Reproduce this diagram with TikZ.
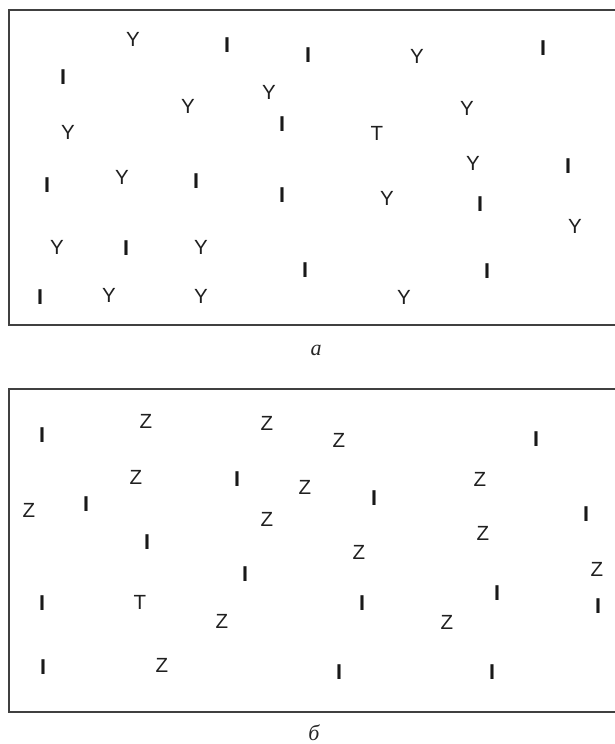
\documentclass[tikz,border=0pt]{standalone}
\usepackage{fontspec}
\setmainfont{Liberation Serif}
\newfontfamily\lettfont{Liberation Sans}
\begin{document}
\begin{tikzpicture}[x=1pt,y=-1pt,
  ch/.style={inner sep=0pt,font=\lettfont\fontsize{20.5}{20.5}\selectfont,text=black!88},
  bar/.style={inner sep=0pt,font=\lettfont\bfseries\fontsize{21.5}{21.5}\selectfont,text=black!90},
  captext/.style={inner sep=0pt,font=\itshape\fontsize{22}{22}\selectfont,text=black!85},
  frame/.style={draw=black!75,line width=1.3pt}]
\useasboundingbox (0,0) rectangle (614,744);
% frames
\coordinate (ta) at (616,10); \coordinate (tb) at (9,10);
\coordinate (tc) at (9,325); \coordinate (td) at (616,325);
\draw[frame] (ta) -- (tb) -- (tc) -- (td);
\coordinate (ba) at (616,389); \coordinate (bb) at (9,389);
\coordinate (bc) at (9,712); \coordinate (bd) at (616,712);
\draw[frame] (ba) -- (bb) -- (bc) -- (bd);
% panel a
\foreach \x/\y [count=\i] in {133/39,269/92,188/106,68/132,417/56,467/108,473/163,122/177,57/247,201/247,109/295,201/296,387/198,575/226,404/297}
  \node[ch] (ay\i) at (\x,\y) {Y};
\foreach \x/\y [count=\i] in {227/45,308/55,63/77,282/124,543/48,568/166,47/185,196/181,282/195,126/248,305/270,40/297,480/204,487/271}
  \node[bar] (ai\i) at (\x,\y) {I};
\node[ch] (at) at (377,133) {T};
\node[captext] (la) at (316,350) {a};
% panel b
\foreach \x/\y [count=\i] in {146/421,267/423,339/440,136/477,305/487,480/479,29/510,267/519,483/533,359/552,597/569,222/621,447/622,162/665}
  \node[ch] (bz\i) at (\x,\y) {Z};
\foreach \x/\y [count=\i] in {42/435,536/439,237/479,86/504,374/498,586/514,147/542,245/574,42/603,497/593,362/603,598/606,43/667,339/672,492/672}
  \node[bar] (bi\i) at (\x,\y) {I};
\node[ch] (bt) at (140,602) {T};
\node[captext] (lb) at (314,733) {б};
\end{tikzpicture}
\end{document}
